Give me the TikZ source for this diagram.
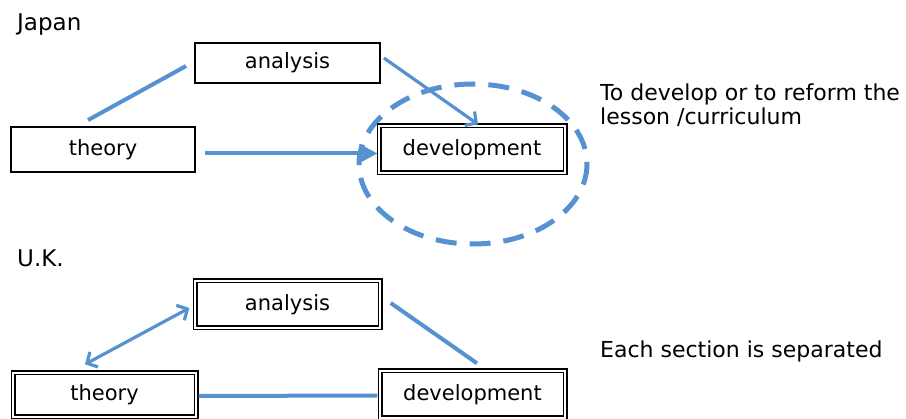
\documentclass[tikz,border=0pt]{standalone}
\usepackage{fontspec}
\setmainfont{DejaVu Sans}
\usetikzlibrary{calc,arrows.meta}
\definecolor{conn}{RGB}{86,146,210}
\tikzset{
  lbl/.style={font=\fontsize{22}{24}\selectfont, inner sep=0pt},
  sbox/.style={draw=black, line width=1.8pt, fill=white, inner sep=0pt, font=\fontsize{21}{24}\selectfont},
  dbox/.style={draw=black, double=white, double distance=2.2pt, line width=1.4pt, fill=white, inner sep=0pt, font=\fontsize{21}{24}\selectfont},
  link/.style={draw=conn, line width=4pt},
  barb/.tip={Straight Barb[length=8pt,width=17pt,line width=3.2pt]},
  tri/.tip={Stealth[length=18pt,width=19pt,inset=4pt]}
}
\begin{document}
\begin{tikzpicture}[x=1pt,y=-1pt]
\useasboundingbox (0,0) rectangle (906,419);
\fill[white] (0,0) rectangle (906,419);

% Japan
\node[lbl, font=\fontsize{23}{24}\selectfont, anchor=base west] (jp) at (17,31) {Japan};
\draw[conn, line width=5pt, dash pattern=on 21pt off 13pt] (473,164) ellipse [x radius=114, y radius=80];
\node[sbox, minimum width=185pt, minimum height=40pt] (ja) at (287.5,63) {analysis};
\node[sbox, minimum width=184pt, minimum height=45pt] (jt) at (103,149.5) {theory};
\node[dbox, minimum width=186pt, minimum height=47pt] (jd) at (472,149.5) {development};
\node[lbl, anchor=north west, align=left] (jtxt) at (600,84) {To develop or to reform the\\lesson /curriculum};

\draw[link] ($(jt.north)+(-15,-6)$) -- ($(ja.west)+(-8,3)$);
\draw[link, -{tri}] ($(jt.east)+(9,4)$) -- ($(jd.west)+(-1,4)$);
\draw[link, line width=3.2pt, -{barb}] ($(ja.east)+(3,-5)$) -- ($(jd.north)+(6,-1)$);

% U.K.
\node[lbl, font=\fontsize{23}{24}\selectfont, anchor=base west] (uk) at (17,267) {U.K.};
\node[dbox, minimum width=185pt, minimum height=47pt] (ua) at (287.5,304.5) {analysis};
\node[dbox, minimum width=183pt, minimum height=44pt] (ut) at (104.5,395) {theory};
\node[dbox, minimum width=185pt, minimum height=47pt] (ud) at (472.5,394.5) {development};
\node[lbl, anchor=base west] (utxt) at (600,358) {Each section is separated};

\draw[link, line width=3.2pt, {barb}-{barb}] ($(ut.north)+(-19.5,-8)$) -- ($(ua.west)+(-5,3.5)$);
\draw[link] ($(ua.east)+(10,-1.5)$) -- ($(ud.north)+(4.5,-7)$);
\draw[link] ($(ut.east)+(2,1)$) -- ($(ud.west)+(-2,1)$);
\end{tikzpicture}
\end{document}
